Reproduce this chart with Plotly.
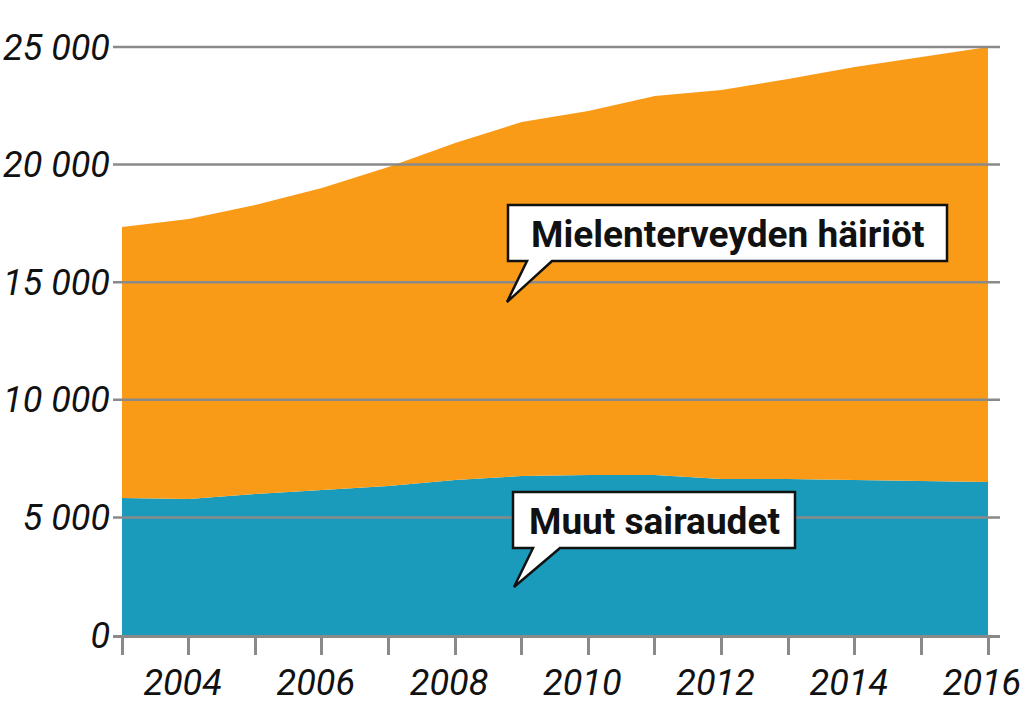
import plotly.graph_objects as go

# ---- data ----
years = [2003, 2004, 2005, 2006, 2007, 2008, 2009, 2010, 2011, 2012, 2013, 2014, 2015, 2016]
muut_sairaudet = [5830, 5780, 5990, 6160, 6340, 6590, 6760, 6800, 6800, 6630, 6630, 6590, 6550, 6500]
yhteensa = [17350, 17690, 18280, 19000, 19900, 20920, 21810, 22280, 22920, 23170, 23640, 24150, 24580, 25000]
mielenterveys = [t - m for t, m in zip(yhteensa, muut_sairaudet)]

y_tickvals = [0, 5000, 10000, 15000, 20000, 25000]
y_ticktext = ["0", "5 000", "10 000", "15 000", "20 000", "25 000"]
x_tickvals = years
x_ticktext = [str(y) if y % 2 == 0 else "" for y in years]

label_mental = "Mielenterveyden häiriöt"
label_other = "Muut sairaudet"

# ---- layout constants ----
W, H = 1024, 721
ML, MR, MT, MB = 113, 24, 30, 86
PW, PH = W - ML - MR, H - MT - MB
ORANGE = "#F99B17"
TEAL = "#1B9BBB"
GREY = "#8a8a8a"
TICKFONT = dict(family="Roboto", size=36, color="#111111", style="italic")


def px2paper(px, py):
    return (px - ML) / PW, (H - MB - py) / PH


def bubble_path(pts):
    s = []
    for i, (px, py) in enumerate(pts):
        x, y = px2paper(px, py)
        s.append(("M" if i == 0 else "L") + f"{x:.5f},{y:.5f}")
    return " ".join(s) + " Z"


fig = go.Figure()
fig.add_trace(go.Scatter(x=years, y=muut_sairaudet, mode="none", stackgroup="one",
                         fillcolor=TEAL, name=label_other, hoverinfo="x+y"))
fig.add_trace(go.Scatter(x=years, y=mielenterveys, mode="none", stackgroup="one",
                         fillcolor=ORANGE, name=label_mental, hoverinfo="x+y"))

shapes = []
for v in y_tickvals[1:]:
    shapes.append(dict(type="line", xref="paper", yref="y", x0=0, x1=1, y0=v, y1=v,
                       line=dict(color=GREY, width=2.5), layer="above"))

# speech bubbles (decoration)
b1 = [(508, 205), (947, 205), (947, 261), (552, 261), (507, 302), (527, 261), (508, 261)]
b2 = [(513, 492), (795, 492), (795, 548), (560, 548), (514, 587), (533, 548), (513, 548)]
for b in (b1, b2):
    shapes.append(dict(type="path", xref="paper", yref="paper", path=bubble_path(b),
                       fillcolor="white", line=dict(color="#111111", width=2.5), layer="above"))

annotations = []
for text, cx, cy, size in ((label_mental, 727.5, 234, 37), (label_other, 654, 521, 37)):
    x, y = px2paper(cx, cy)
    annotations.append(dict(text=text, x=x, y=y, xref="paper", yref="paper",
                            xanchor="center", yanchor="middle", showarrow=False,
                            font=dict(family="Roboto", size=size, color="#111111", weight="bold")))

fig.update_layout(
    width=W, height=H,
    margin=dict(l=ML, r=MR, t=MT, b=MB, autoexpand=False),
    paper_bgcolor="white", plot_bgcolor="white",
    showlegend=False,
    shapes=shapes, annotations=annotations,
    xaxis=dict(range=[2003 - 9 / 66.615, 2016 + 12 / 66.615], tickvals=x_tickvals, ticktext=x_ticktext,
               showgrid=False, zeroline=False, showline=True, linecolor=GREY, linewidth=2.5,
               ticks="outside", ticklen=17, tickwidth=2.5, tickcolor=GREY,
               tickfont=TICKFONT, ticklabelstandoff=-3, ticklabelshift=-6,
               automargin=False, layer="above traces"),
    yaxis=dict(range=[0, (H - MB - MT) / 0.02352], tickvals=y_tickvals, ticktext=y_ticktext,
               showgrid=False, zeroline=False, showline=False, ticks="",
               tickfont=TICKFONT, ticklabelstandoff=2, automargin=False),
)

fig.write_html("out.html", config={"displayModeBar": False},
               post_script="document.body.style.margin='0';document.body.style.overflow='hidden';")
